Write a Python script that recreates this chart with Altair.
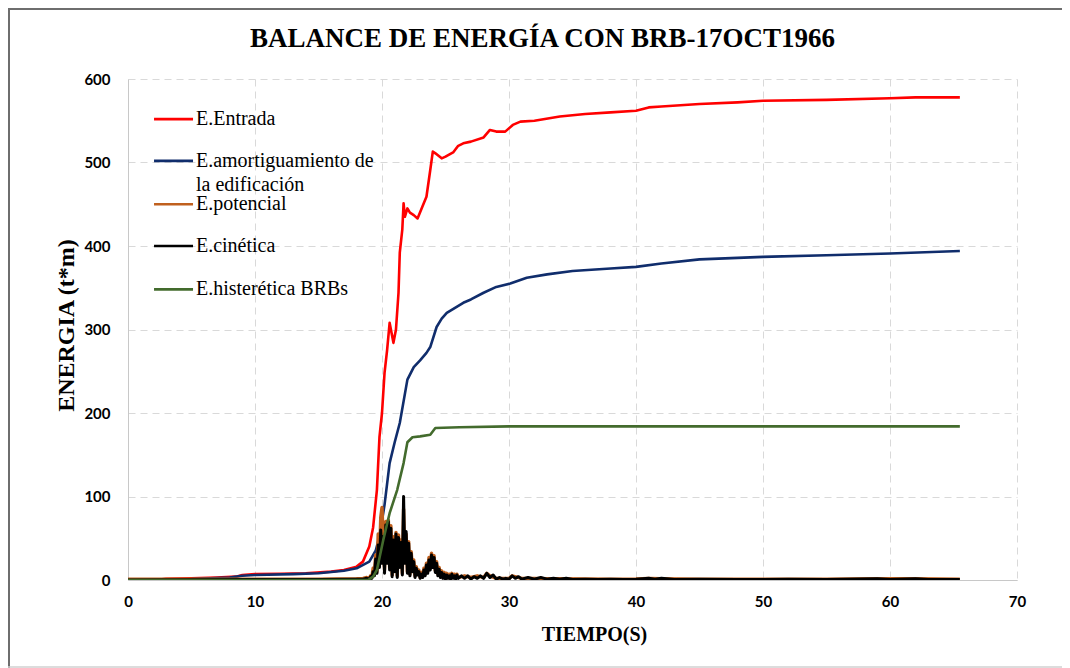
import altair as alt
import pandas as pd

TITLE = "BALANCE DE ENERGÍA CON BRB-17OCT1966"
X_TITLE = "TIEMPO(S)"
Y_TITLE = "ENERGIA (t*m)"
x_ticks = [0, 10, 20, 30, 40, 50, 60, 70]
y_ticks = [0, 100, 200, 300, 400, 500, 600]

series_names = ["E.Entrada", "E.amortiguamiento de", "E.potencial", "E.cinética", "E.histerética BRBs"]
series_colors = ["#FF0000", "#102D6C", "#C0601E", "#000000", "#436B2D"]
extra_label = "la edificación"

# E.Entrada
t_in = [0, 2.5, 3, 5, 7, 8.5, 9, 10, 12, 14, 16, 17, 18, 18.5, 19, 19.3, 19.6, 19.8, 20.0, 20.2,
        20.4, 20.6, 20.9, 21.1, 21.3, 21.4, 21.6, 21.7, 21.8, 22.0, 22.2, 22.5, 22.8, 23.2, 23.5,
        23.8, 24.0, 24.3, 24.7, 25.0, 25.6, 26.0, 26.4, 27.0, 28.0, 28.5, 29.0, 29.7, 30.3, 30.9,
        32, 34, 36, 38, 40, 41, 42, 45, 48, 50, 55, 60, 62, 65.5]
e_in = [0, 0.5, 1.5, 2, 3, 4, 6, 7, 7.5, 8, 10, 12, 16, 22, 40, 63, 108, 171, 200, 248,
        275, 308, 284, 300, 344, 392, 420, 451, 435, 445, 440, 437, 433, 448, 459,
        491, 513, 510, 505, 507, 512, 520, 523, 525, 530, 539, 537, 537, 545, 549,
        550, 555, 558, 560, 562, 566, 567, 570, 572, 574, 575, 577, 578, 578]

# E.amortiguamiento de la edificación
t_am = [0, 5, 8, 9, 10, 13, 15, 17, 18, 19, 19.5, 19.8, 20.2, 20.6, 21.0, 21.4, 22.0, 22.5, 23.0,
        23.5, 23.8, 24.3, 24.7, 25.1, 26.4, 27, 28.0, 29.0, 30.1, 31.4, 33, 35, 38, 40, 42, 45,
        50, 55, 60, 65.5]
e_am = [0, 1, 3, 5, 6, 7, 8, 11, 14, 22, 35, 52, 90, 140, 165, 188, 240, 255, 263,
        272, 279, 303, 313, 320, 332, 336, 344, 351, 355, 362, 366, 370, 373, 375, 379, 384,
        387, 389, 391, 394]

# E.histerética BRBs
t_hi = [0, 18.9, 19.3, 19.6, 20.1, 20.6, 21.2, 21.7, 22.0, 22.4, 23.0, 23.8, 24.2, 26.1, 30, 40, 50, 65.5]
e_hi = [0, 0, 4, 12, 48, 80, 108, 140, 165, 171, 172, 174, 182, 183, 184, 184, 184, 184]

# E.cinética
t_ki = [0, 10, 15, 18, 18.5, 18.8,
        19.0, 19.1, 19.2, 19.3, 19.4, 19.5, 19.6, 19.7, 19.8, 19.9,
        20.0, 20.1, 20.2, 20.3, 20.4, 20.5, 20.6, 20.7, 20.8, 20.9,
        21.0, 21.1, 21.2, 21.3, 21.4, 21.5, 21.6, 21.7, 21.8, 21.9,
        22.0, 22.1, 22.2, 22.3, 22.4, 22.5, 22.6, 22.7, 22.8, 22.9,
        23.0, 23.1, 23.2, 23.3, 23.4, 23.5, 23.6, 23.7, 23.8, 23.9,
        24.0, 24.1, 24.2, 24.3, 24.4, 24.5, 24.6, 24.7, 24.8, 24.9,
        25.0, 25.1, 25.2, 25.3, 25.4, 25.5, 25.6, 25.7, 25.8, 25.9, 26.0,
        26.25, 26.5, 26.75, 27.0, 27.25, 27.5, 27.75, 28.0, 28.25, 28.5, 28.75, 29.0, 29.25,
        29.5, 29.75, 30.0, 30.25, 30.5, 30.75, 31.0, 31.5, 32.0, 32.5, 33.0, 33.5, 34.0,
        34.5, 35.0, 36, 37, 38, 39, 40, 41, 41.5, 42, 43, 45, 48, 50, 52, 55, 59, 60, 62, 63, 65.5]
e_ki = [0, 0.5, 0.5, 1, 1, 2,
        1, 4, 2, 10, 5, 25, 8, 42, 15, 60,
        20, 52, 8, 66, 20, 70, 12, 62, 4, 48,
        10, 55, 3, 51, 15, 45, 6, 100, 20, 58,
        8, 44, 5, 32, 10, 22, 3, 14, 6, 10,
        2, 7, 3, 12, 5, 18, 8, 24, 12, 30,
        15, 27, 9, 20, 5, 13, 3, 9, 2, 7,
        1, 6, 2, 5, 1, 7, 2, 5, 1, 6, 2,
        5, 2, 5, 1, 4, 2, 5, 2, 8, 3, 6, 1, 3,
        1, 2, 1, 5, 2, 4, 1, 3, 1, 3, 1, 2, 1,
        2, 0.5, 1, 0.5, 1, 0.5, 1, 2, 1, 2, 0.5, 1, 0.5, 0.5, 1, 0.5, 1.5, 0.5, 1.5, 0.5, 0.5]

# E.potencial
t_po = [0, 10, 15, 18, 18.5, 18.8,
        19.0, 19.1, 19.2, 19.3, 19.4, 19.5, 19.6, 19.7, 19.8, 19.9,
        20.0, 20.1, 20.2, 20.3, 20.4, 20.5, 20.6, 20.7, 20.8, 20.9,
        21.0, 21.1, 21.2, 21.3, 21.4, 21.5, 21.6, 21.7, 21.8, 21.9,
        22.0, 22.1, 22.2, 22.3, 22.4, 22.5, 22.6, 22.7, 22.8, 22.9,
        23.0, 23.1, 23.2, 23.3, 23.4, 23.5, 23.6, 23.7, 23.8, 23.9,
        24.0, 24.1, 24.2, 24.3, 24.4, 24.5, 24.6, 24.7, 24.8, 24.9,
        25.0, 25.1, 25.2, 25.3, 25.4, 25.5, 25.6, 25.7, 25.8, 25.9, 26.0,
        26.5, 27.0, 27.5, 28.0, 28.25, 28.5, 29.0, 30.0, 30.25, 31.0, 32.0, 33.0, 34.0,
        36, 38, 40, 41, 42, 45, 50, 55, 59, 62, 65.5]
e_po = [1, 1, 1, 1.5, 2, 3,
        2, 5, 3, 14, 6, 30, 10, 55, 20, 75,
        87, 45, 12, 70, 25, 72, 15, 65, 6, 52,
        12, 57, 5, 54, 18, 48, 8, 85, 22, 55,
        10, 46, 7, 34, 12, 24, 5, 16, 8, 12,
        3, 9, 4, 14, 7, 20, 10, 27, 14, 32,
        17, 29, 11, 22, 7, 15, 4, 11, 3, 9,
        2, 8, 3, 7, 2, 8, 3, 7, 2, 7, 3,
        5, 3, 5, 3, 8, 5, 2, 2, 5, 2, 2, 1.5, 1.5,
        1.2, 1, 1.2, 2, 1.5, 1, 1, 1, 1.5, 1.5, 1]

# legend rows (energy units, inside the plot)
legend_y = [552, 502, 450, 400, 348]
legend_extra_y = 473
legend_x1, legend_x2, legend_tx = 2.05, 5.12, 5.35

grid_color = "#D9D9D9"
x_enc = alt.X("t:Q", scale=alt.Scale(domain=[0, 70], nice=False),
              axis=alt.Axis(values=x_ticks, title=X_TITLE, format="d", labelFlush=False,
                            labelPadding=14, titleX=466, titleY=54,
                            titleAlign="center", titleBaseline="middle"))
y_enc = alt.Y("e:Q", scale=alt.Scale(domain=[0, 600], nice=False),
              axis=alt.Axis(values=y_ticks, title=Y_TITLE, format="d", labelFlush=False,
                            labelPadding=18, titleX=-62, titleY=246, titleAngle=270,
                            titleAlign="center", titleBaseline="middle"))


def line(t, e, color, w):
    df = pd.DataFrame({"t": t, "e": e})
    return alt.Chart(df).mark_line(color=color, strokeWidth=w, strokeJoin="round",
                                   clip=True).encode(x=x_enc, y=y_enc)


lines = [
    line(t_in, e_in, series_colors[0], 2.6),
    line(t_am, e_am, series_colors[1], 2.6),
    line(t_po, e_po, series_colors[2], 3.4),
    line(t_ki, e_ki, series_colors[3], 3.0),
    line(t_hi, e_hi, series_colors[4], 2.6),
]

leg_sym = pd.DataFrame({"t": [legend_x1] * 5, "t2": [legend_x2] * 5, "e": legend_y,
                        "col": series_colors})
sym = alt.Chart(leg_sym).mark_rule(strokeWidth=2.6).encode(
    x=x_enc, x2="t2:Q", y=y_enc, color=alt.Color("col:N", scale=None))

leg_txt = pd.DataFrame({"t": [legend_tx] * 6,
                        "e": legend_y + [legend_extra_y],
                        "lab": series_names + [extra_label]})
txt = alt.Chart(leg_txt).mark_text(align="left", baseline="middle", font="Liberation Serif",
                                   fontSize=20, color="#000000").encode(
    x=x_enc, y=y_enc, text="lab:N")

one = pd.DataFrame({"k": [0]})
border_top = alt.Chart(one).mark_rule(color="#6E6E6E", strokeWidth=2).encode(
    x=alt.value(-120), x2=alt.value(934), y=alt.value(-70))
border_left = alt.Chart(one).mark_rule(color="#6E6E6E", strokeWidth=2).encode(
    x=alt.value(-119), y=alt.value(-71), y2=alt.value(589))
border_bottom = alt.Chart(one).mark_rule(color="#D0D0D0", strokeWidth=1.5).encode(
    x=alt.value(-120), x2=alt.value(934), y=alt.value(588))

chart = alt.layer(*lines, sym, txt, border_top, border_left, border_bottom).properties(
    width=889, height=501,
    title=alt.TitleParams(TITLE, font="Liberation Serif", fontSize=27, fontWeight="bold",
                          color="#000000", anchor="middle", dx=-30, dy=27, offset=-40,
                          baseline="alphabetic"),
    autosize=alt.AutoSizeParams(type="none"),
    padding={"left": 120, "top": 71, "right": 45, "bottom": 88},
).configure_view(stroke=None).configure_axis(
    grid=True, gridColor=grid_color, gridDash=[7, 5], gridWidth=1,
    domainColor="#C8C8C8", domainWidth=1, ticks=False,
    labelFont="Lato", labelFontWeight="bold", labelFontSize=15, labelColor="#000000",
    titleFont="Liberation Serif", titleFontWeight="bold", titleColor="#000000",
).configure_axisX(titleFontSize=20).configure_axisY(titleFontSize=24)

chart.save("out.html", embed_options={"renderer": "svg", "actions": False})
